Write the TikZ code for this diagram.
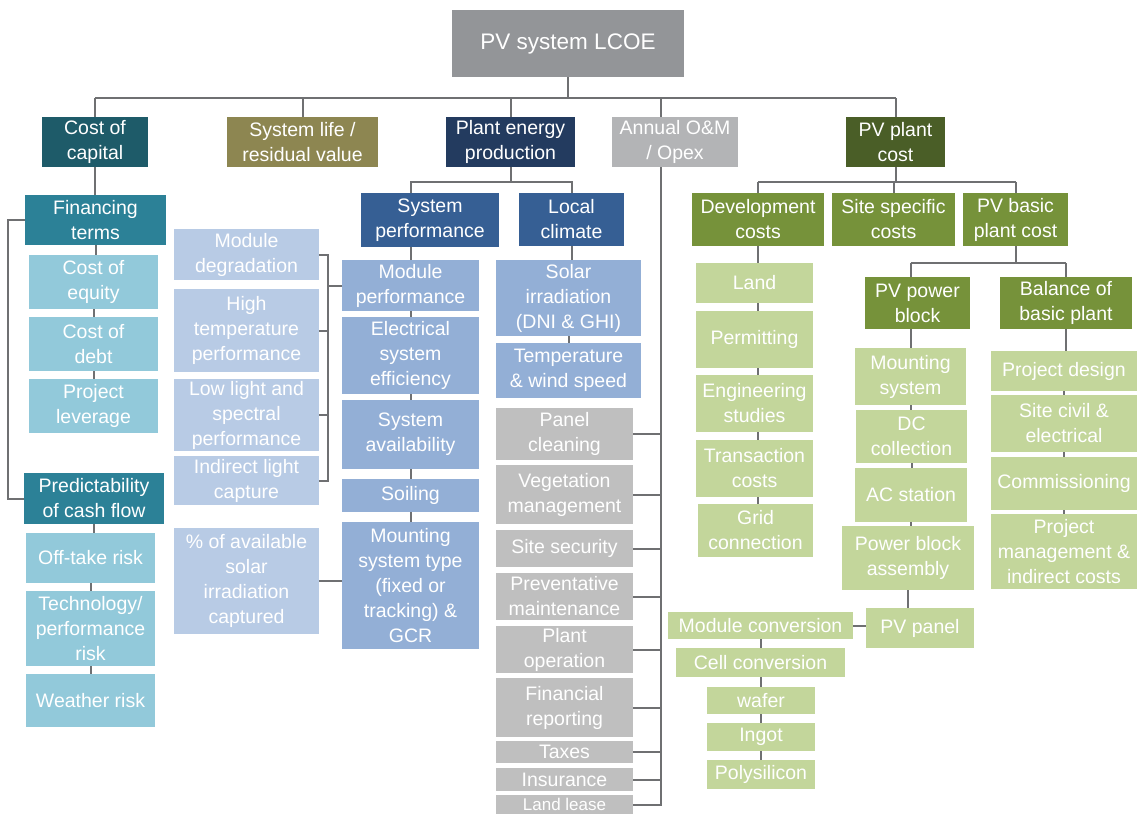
\documentclass[tikz,border=0pt]{standalone}
\usepackage{fontspec}
\setmainfont{Liberation Sans}
\definecolor{cLcoe}{HTML}{939598}
\definecolor{cCap}{HTML}{1E5B69}
\definecolor{cFin}{HTML}{2C8197}
\definecolor{cCyan}{HTML}{92C9DA}
\definecolor{cOlive}{HTML}{8D8651}
\definecolor{cNavy}{HTML}{233B5F}
\definecolor{cBlueMid}{HTML}{365F94}
\definecolor{cBlueLight}{HTML}{93AFD6}
\definecolor{cBluePale}{HTML}{B8CBE5}
\definecolor{cOpexHead}{HTML}{B3B4B6}
\definecolor{cOpexBox}{HTML}{BFBFBF}
\definecolor{cPlant}{HTML}{4A5E27}
\definecolor{cGrMid}{HTML}{76923A}
\definecolor{cGrLight}{HTML}{C3D69B}
\definecolor{cLine}{HTML}{6F7072}
\newcommand\bx[7]{\node[#1, minimum width={(#5-#3)*1pt}, minimum height={(#6-#4)*1pt}] (#2) at ({(#3+#5)/2},{(#4+#6)/2}) {#7};}
\begin{document}
\begin{tikzpicture}[x=1pt,y=-1pt,
  box/.style={inner sep=0pt, outer sep=0pt, align=center, text=white, font=\fontsize{19.5}{25}\selectfont},
  toplcoe/.style={box, fill=cLcoe, font=\fontsize{22.5}{27}\selectfont},
  capdark/.style={box, fill=cCap},
  capmid/.style={box, fill=cFin},
  caplight/.style={box, fill=cCyan},
  olivebox/.style={box, fill=cOlive},
  navybox/.style={box, fill=cNavy},
  bluemid/.style={box, fill=cBlueMid},
  bluelight/.style={box, fill=cBlueLight},
  bluepale/.style={box, fill=cBluePale},
  opexhead/.style={box, fill=cOpexHead},
  opexbox/.style={box, fill=cOpexBox},
  plantbox/.style={box, fill=cPlant},
  grmid/.style={box, fill=cGrMid},
  grlight/.style={box, fill=cGrLight},
  ln/.style={draw=cLine, line width=2pt}]
\useasboundingbox (0,0) rectangle (1137,814);
\clip (0,0) rectangle (1137,814);
\fill[white] (0,0) rectangle (1137,814);

% top
\bx{toplcoe}{lcoe}{452}{10}{684}{77}{PV system LCOE}
\bx{capdark}{cap}{42}{117}{148}{167}{Cost of\\capital}
\bx{olivebox}{life}{227}{117}{378}{167}{System life /\\residual value}
\bx{navybox}{energy}{446}{117}{575}{167}{Plant energy\\production}
\bx{opexhead}{opex}{612}{117}{738}{167}{Annual O\&M\\/ Opex}
\bx{plantbox}{plant}{846}{117}{945}{167}{PV plant\\cost}

% cost of capital
\bx{capmid}{fin}{25}{195}{166}{245}{Financing\\terms}
\bx{caplight}{eq}{29}{255}{158}{309}{Cost of\\equity}
\bx{caplight}{debt}{29}{317}{158}{371}{Cost of\\debt}
\bx{caplight}{lev}{29}{379}{158}{433}{Project\\leverage}
\bx{capmid}{pred}{24}{473}{164}{524}{Predictability\\of cash flow}
\bx{caplight}{off}{26}{533}{155}{583}{Off-take risk}
\bx{caplight}{tech}{26}{591}{155}{666}{Technology/\\performance\\risk}
\bx{caplight}{weather}{26}{674}{155}{727}{Weather risk}

% energy
\bx{bluemid}{sysperf}{361}{193}{499}{247}{System\\performance}
\bx{bluemid}{local}{519}{193}{624}{246}{Local\\climate}
\bx{bluelight}{modperf}{342}{260}{479}{311}{Module\\performance}
\bx{bluelight}{elec}{342}{317}{479}{394}{Electrical\\system\\efficiency}
\bx{bluelight}{avail}{342}{400}{479}{469}{System\\availability}
\bx{bluelight}{soil}{342}{479}{479}{512}{Soiling}
\bx{bluelight}{mount}{342}{522}{479}{649}{Mounting\\system type\\(fixed or\\tracking) \&\\GCR}
\bx{bluepale}{deg}{174}{229}{319}{280}{Module\\degradation}
\bx{bluepale}{hight}{174}{289}{319}{372}{High\\temperature\\performance}
\bx{bluepale}{lowl}{174}{379}{319}{451}{Low light and\\spectral\\performance}
\bx{bluepale}{indir}{174}{456}{319}{505}{Indirect light\\capture}
\bx{bluepale}{pct}{174}{528}{319}{634}{\% of available\\solar\\irradiation\\captured}
\bx{bluelight}{solar}{496}{260}{641}{336}{Solar\\irradiation\\(DNI \& GHI)}
\bx{bluelight}{temp}{496}{343}{641}{398}{Temperature\\\& wind speed}

% opex
\bx{opexbox}{clean}{496}{408}{633}{460}{Panel\\cleaning}
\bx{opexbox}{veg}{496}{465}{633}{524}{Vegetation\\management}
\bx{opexbox}{sec}{496}{530}{633}{567}{Site security}
\bx{opexbox}{prev}{496}{573}{633}{620}{Preventative\\maintenance}
\bx{opexbox}{oper}{496}{626}{633}{673}{Plant\\operation}
\bx{opexbox}{finrep}{496}{678}{633}{737}{Financial\\reporting}
\bx{opexbox}{tax}{496}{741}{633}{763}{Taxes}
\bx{opexbox}{ins}{496}{768}{633}{791}{Insurance}
\bx{opexbox,font=\fontsize{17}{20}\selectfont}{lease}{496}{795}{633}{814}{Land lease}

% plant
\bx{grmid}{dev}{692}{193}{824}{246}{Development\\costs}
\bx{grmid}{site}{832}{193}{955}{246}{Site specific\\costs}
\bx{grmid}{basic}{963}{193}{1068}{246}{PV basic\\plant cost}
\bx{grlight}{land}{696}{263}{813}{303}{Land}
\bx{grlight}{perm}{696}{311}{813}{368}{Permitting}
\bx{grlight}{eng}{696}{375}{813}{432}{Engineering\\studies}
\bx{grlight}{trans}{696}{440}{813}{497}{Transaction\\costs}
\bx{grlight}{grid}{698}{504}{813}{557}{Grid\\connection}
\bx{grmid}{pvpb}{865}{277}{970}{329}{PV power\\block}
\bx{grmid}{bop}{1000}{277}{1132}{329}{Balance of\\basic plant}
\bx{grlight}{mts}{855}{348}{966}{405}{Mounting\\system}
\bx{grlight}{dc}{856}{410}{967}{463}{DC\\collection}
\bx{grlight}{ac}{855}{468}{967}{522}{AC station}
\bx{grlight}{pba}{842}{526}{974}{590}{Power block\\assembly}
\bx{grlight}{pvp}{866}{608}{974}{648}{PV panel}
\bx{grlight}{pd}{991}{351}{1137}{391}{Project design}
\bx{grlight}{civ}{991}{395}{1137}{452}{Site civil \&\\electrical}
\bx{grlight}{com}{991}{457}{1137}{510}{Commissioning}
\bx{grlight}{pm}{991}{514}{1137}{589}{Project\\management \&\\indirect costs}
\bx{grlight}{modc}{668}{612}{853}{639}{Module conversion}
\bx{grlight}{cell}{676}{648}{845}{677}{Cell conversion}
\bx{grlight}{waf}{707}{687}{815}{714}{wafer}
\bx{grlight}{ing}{707}{723}{815}{751}{Ingot}
\bx{grlight}{poly}{707}{760}{815}{789}{Polysilicon}

% helper coordinates
\coordinate (busy) at (0,98);
\coordinate (ey) at (0,182);
\coordinate (py) at (0,182);
\coordinate (qy) at (0,263);
\coordinate (ox) at (661,0);
\coordinate (bxr) at (328,0);
\coordinate (lx) at (8,0);

% top bus
\draw[ln] (lcoe.south) -- (lcoe.south |- busy);
\draw[ln] (cap.north |- busy) -- (plant.north |- busy);
\draw[ln] (cap.north |- busy) -- (cap.north);
\draw[ln] (life.north |- busy) -- (life.north);
\draw[ln] (energy.north |- busy) -- (energy.north);
\draw[ln] (ox |- busy) -- (ox |- opex.north);
\draw[ln] (plant.north |- busy) -- (plant.north);

% cost of capital
\draw[ln] (cap.south) -- (cap.south |- fin.north);
\draw[ln] (fin.south) -- (fin.south |- eq.north);
\draw[ln] (eq.south) -- (eq.south |- debt.north);
\draw[ln] (debt.south) -- (debt.south |- lev.north);
\draw[ln] (fin.west) -- (fin.west -| lx) -- (pred.west -| lx) -- (pred.west);
\draw[ln] (pred.south) -- (pred.south |- off.north);
\draw[ln] (off.south) -- (off.south |- tech.north);
\draw[ln] (tech.south) -- (tech.south |- weather.north);

% energy
\draw[ln] (energy.south) -- (energy.south |- ey);
\draw[ln] (sysperf.north -| modperf.north) -- (modperf.north |- ey) -- (local.north |- ey) -- (local.north);
\draw[ln] (sysperf.south -| modperf.north) -- (modperf.north);
\draw[ln] (modperf.south) -- (elec.north);
\draw[ln] (elec.south) -- (avail.north);
\draw[ln] (avail.south) -- (soil.north);
\draw[ln] (soil.south) -- (mount.north);
\draw[ln] (deg.east) -- (deg.east -| bxr) -- (indir.east -| bxr) -- (indir.east);
\draw[ln] (hight.east) -- (hight.east -| bxr);
\draw[ln] (lowl.east) -- (lowl.east -| bxr);
\draw[ln] (modperf.west -| bxr) -- (modperf.west);
\draw[ln] (pct.east) -- (pct.east -| mount.west);
\draw[ln] (local.south) -- (local.south |- solar.north);
\draw[ln] (solar.south) -- (temp.north);

% opex
\draw[ln] (ox |- opex.south) -- (ox |- lease.east) -- (lease.east);
\foreach \n in {clean,veg,sec,prev,oper,finrep,tax,ins}
  \draw[ln] (\n.east) -- (\n.east -| ox);

% plant
\draw[ln] (plant.south) -- (plant.south |- py);
\draw[ln] (dev.north |- py) -- (basic.north |- py);
\draw[ln] (dev.north |- py) -- (dev.north);
\draw[ln] (site.north |- py) -- (site.north);
\draw[ln] (basic.north |- py) -- (basic.north);
\draw[ln] (dev.south) -- (dev.south |- land.north);
\draw[ln] (land.south -| dev.south) -- (perm.north -| dev.south);
\draw[ln] (perm.south -| dev.south) -- (eng.north -| dev.south);
\draw[ln] (eng.south -| dev.south) -- (trans.north -| dev.south);
\draw[ln] (trans.south -| dev.south) -- (grid.north -| dev.south);
\draw[ln] (basic.south) -- (basic.south |- qy);
\draw[ln] (mts.north |- qy) -- (bop.north |- qy);
\draw[ln] (mts.north |- qy) -- (mts.north |- pvpb.north);
\draw[ln] (bop.north |- qy) -- (bop.north);
\draw[ln] (pvpb.south -| mts.north) -- (mts.north);
\draw[ln] (mts.south) -- (mts.south |- dc.north);
\draw[ln] (dc.south) -- (dc.south |- ac.north);
\draw[ln] (ac.south) -- (ac.south |- pba.north);
\draw[ln] (pba.south) -- (pba.south |- pvp.north);
\draw[ln] (bop.south) -- (bop.south |- pd.north);
\draw[ln] (pd.south) -- (civ.north);
\draw[ln] (civ.south) -- (com.north);
\draw[ln] (com.south) -- (pm.north);
\draw[ln] (modc.east) -- (modc.east -| pvp.west);
\draw[ln] (modc.south) -- (modc.south |- cell.north);
\draw[ln] (cell.south) -- (cell.south |- waf.north);
\draw[ln] (waf.south) -- (ing.north);
\draw[ln] (ing.south) -- (poly.north);
\end{tikzpicture}
\end{document}
